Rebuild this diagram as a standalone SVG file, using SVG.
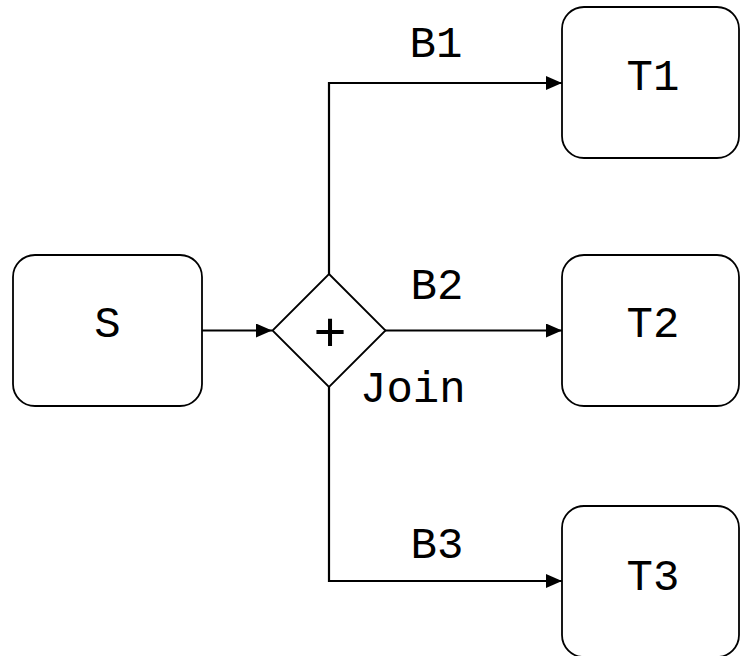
<svg xmlns="http://www.w3.org/2000/svg" width="740" height="656" viewBox="0 0 740 656">
  <style>
    .box { fill: #ffffff; stroke: #000000; stroke-width: 1.8; }
    .edge { fill: none; stroke: #000000; stroke-width: 2.2; }
    .lbl { font-family: "Liberation Mono", "Courier New", monospace; font-size: 44px; fill: #000000; }
    .mid { text-anchor: middle; }
    .plus { font-family: "Liberation Mono", "Courier New", monospace; font-size: 56px; fill: #000000; text-anchor: middle; }
  </style>
  <defs>
    <marker id="arrow" viewBox="0 0 16 14" refX="16" refY="7" markerWidth="16" markerHeight="14" markerUnits="userSpaceOnUse" orient="auto">
      <path d="M0,0 L16,7 L0,14 Z" fill="#000000"/>
    </marker>
  </defs>
  <rect width="740" height="656" fill="#ffffff"/>

  <g id="connectors">
    <path class="edge" d="M202,330.5 H272" marker-end="url(#arrow)"/>
    <path class="edge" d="M385,330.5 H562" marker-end="url(#arrow)"/>
    <path class="edge" d="M329,274 V83 H562" marker-end="url(#arrow)"/>
    <path class="edge" d="M329,387 V581 H562" marker-end="url(#arrow)"/>
    <text class="lbl mid" x="436" y="57">B1</text>
    <text class="lbl mid" x="437" y="299">B2</text>
    <text class="lbl mid" x="437" y="558">B3</text>
  </g>

  <g id="node-S">
    <rect class="box" x="13" y="255" width="189" height="151" rx="22" ry="22"/>
    <text class="lbl mid" x="107.5" y="337">S</text>
  </g>

  <g id="node-join">
    <path class="box" d="M329,274 L385.5,330.5 L329,387 L272.5,330.5 Z"/>
    <text class="plus" x="330" y="351">+</text>
    <text class="lbl" x="360" y="402">Join</text>
  </g>

  <g id="node-T1">
    <rect class="box" x="562" y="7" width="177" height="151" rx="22" ry="22"/>
    <text class="lbl mid" x="653" y="90">T1</text>
  </g>

  <g id="node-T2">
    <rect class="box" x="562" y="255" width="177" height="151" rx="22" ry="22"/>
    <text class="lbl mid" x="653" y="337">T2</text>
  </g>

  <g id="node-T3">
    <rect class="box" x="562" y="506" width="177" height="151" rx="22" ry="22"/>
    <text class="lbl mid" x="653" y="590">T3</text>
  </g>
</svg>
